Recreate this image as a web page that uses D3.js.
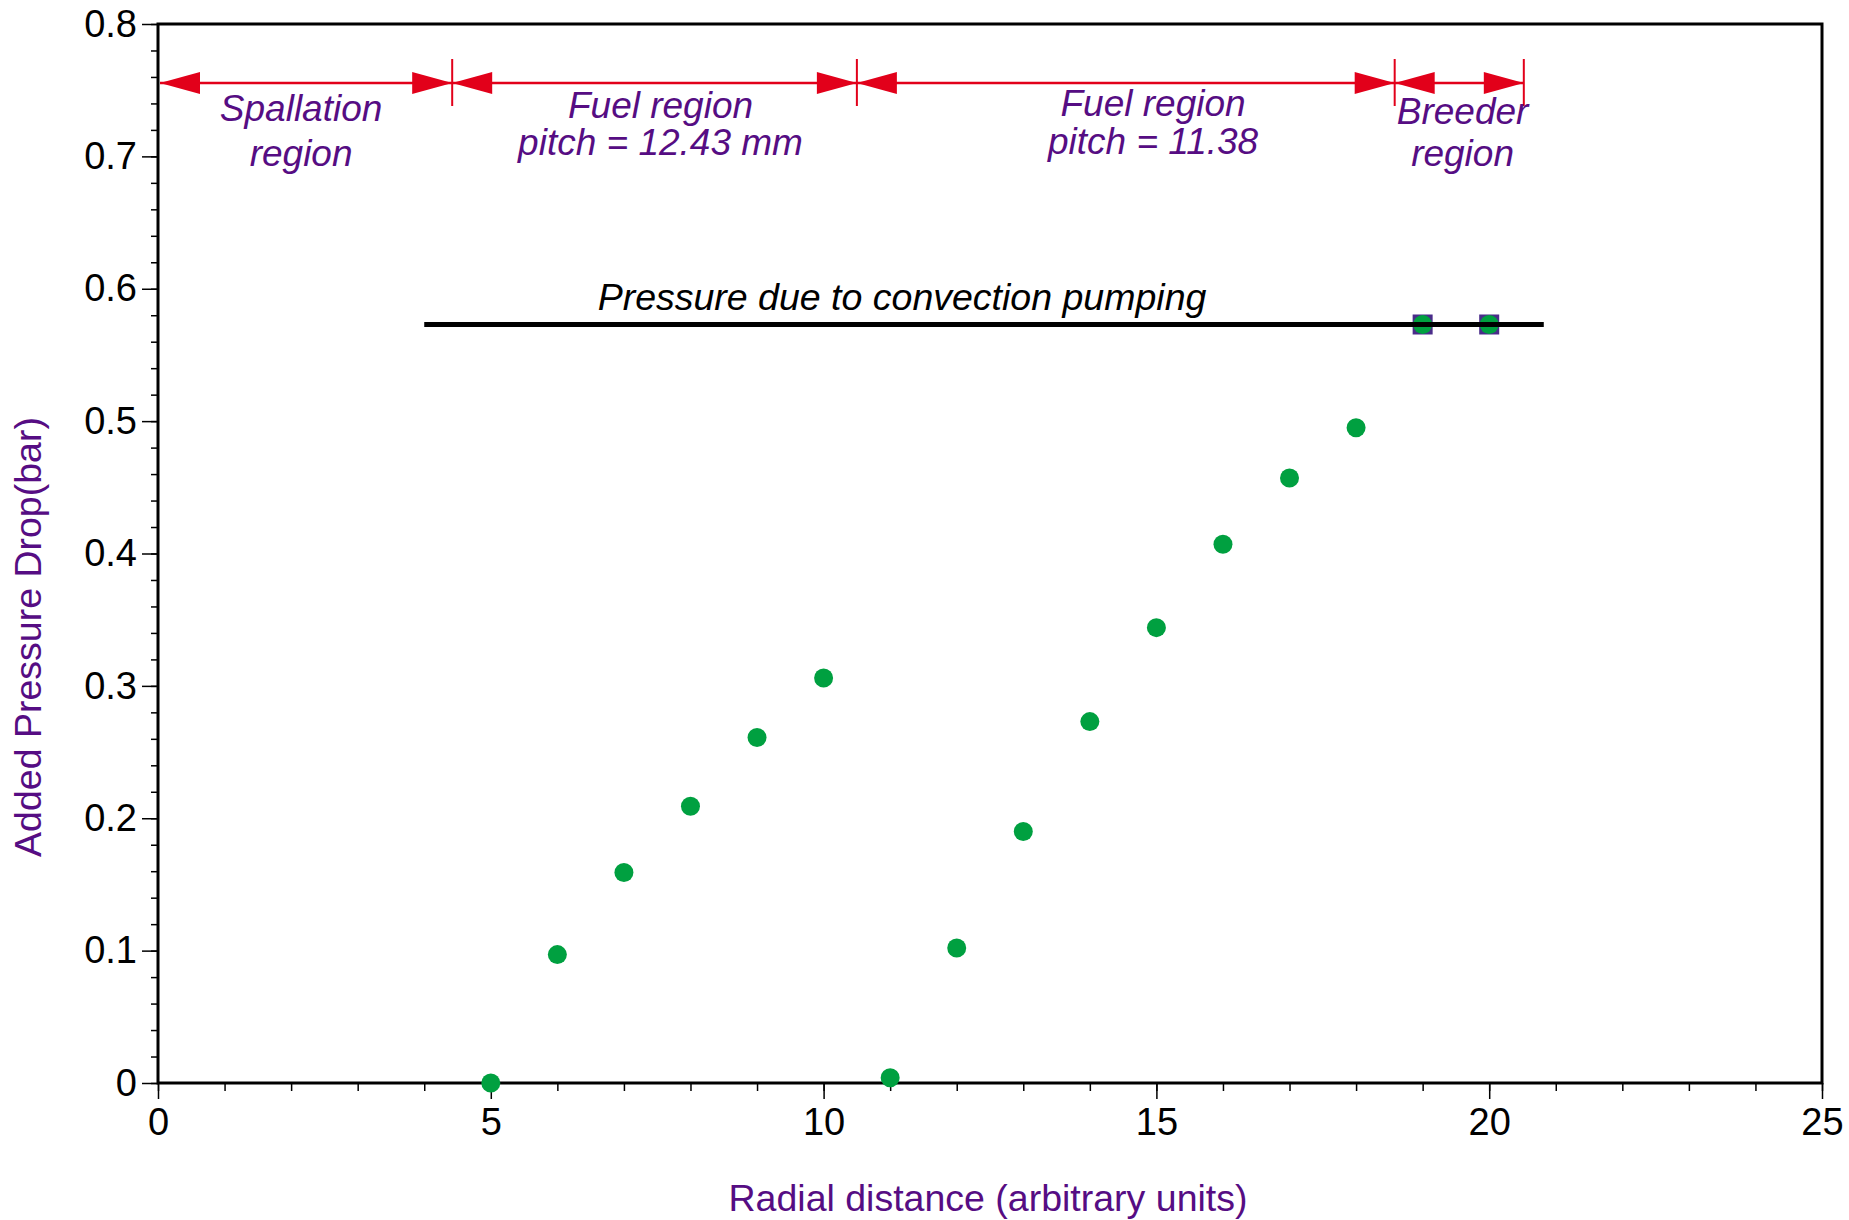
<!DOCTYPE html>
<html><head><meta charset="utf-8">
<script src="https://cdn.jsdelivr.net/npm/d3@7"></script>
<style>body{margin:0;background:#fff}svg{display:block}</style>
</head><body>
<script>
// ---- data ----
const xValues = [5, 6, 7, 8, 9, 10, 11, 12, 13, 14, 15, 16, 17, 18, 19, 20];
const yValues = [0, 0.097, 0.159, 0.209, 0.261, 0.306, 0.004, 0.102, 0.190, 0.273, 0.344, 0.407, 0.457, 0.495, 0.573, 0.573];
const squareX = [19, 20];
const squareY = [0.573, 0.573];
const pumpLine = {x0: 4, x1: 20.82, y: 0.573, label: "Pressure due to convection pumping"};
const regionBounds = [0, 4.42, 10.5, 18.58, 20.52];
const regionLabels = [
  {x: 2.15, lines: ["Spallation", "region"]},
  {x: 7.55, lines: ["Fuel region", "pitch = 12.43 mm"]},
  {x: 14.95, lines: ["Fuel region", "pitch = 11.38"]},
  {x: 19.6, lines: ["Breeder", "region"]}
];
const xTicks = [0, 5, 10, 15, 20, 25];
const yTicks = [0, 0.1, 0.2, 0.3, 0.4, 0.5, 0.6, 0.7, 0.8];
const xTitle = "Radial distance (arbitrary units)";
const yTitle = "Added Pressure Drop(bar)";

// ---- layout ----
const W = 1849, H = 1220;
const L = 158, R = 1822, T = 24, B = 1083;
const purple = "#560d83", red = "#e2001a", green = "#00a040", sqColor = "#4a2c8a";
const font = "'Liberation Sans', Arial, Helvetica, sans-serif";

const svg = d3.select("body").append("svg").attr("width", W).attr("height", H)
  .style("font-family", font);

const x = d3.scaleLinear().domain([0, 25]).range([L, R]);
const y = d3.scaleLinear().domain([0, 0.8]).range([B, T]);

// minor ticks
const gx = svg.append("g").attr("transform", `translate(0,${B})`);
gx.call(d3.axisBottom(x).tickValues(d3.range(0, 26, 1)).tickSize(8).tickFormat(""))
  .call(g => g.select(".domain").remove())
  .call(g => g.selectAll("line").attr("stroke", "#000").attr("stroke-width", 1.5));
const gx2 = svg.append("g").attr("transform", `translate(0,${B})`);
gx2.call(d3.axisBottom(x).tickValues(xTicks).tickSize(16).tickPadding(9).tickFormat(d3.format("d")))
  .call(g => g.select(".domain").remove())
  .call(g => g.selectAll("line").attr("stroke", "#000").attr("stroke-width", 1.5))
  .call(g => g.selectAll("text").attr("fill", "#000").style("font-size", "38px").style("font-family", font));

const gy = svg.append("g").attr("transform", `translate(${L},0)`);
gy.call(d3.axisLeft(y).tickValues(d3.range(0, 41, 1).map(i => i * 0.02)).tickSize(7).tickFormat(""))
  .call(g => g.select(".domain").remove())
  .call(g => g.selectAll("line").attr("stroke", "#000").attr("stroke-width", 1.5));
const gy2 = svg.append("g").attr("transform", `translate(${L},0)`);
gy2.call(d3.axisLeft(y).tickValues(yTicks).tickSize(16).tickPadding(5).tickFormat(d => d === 0 ? "0" : d3.format(".1f")(d)))
  .call(g => g.select(".domain").remove())
  .call(g => g.selectAll("line").attr("stroke", "#000").attr("stroke-width", 1.5))
  .call(g => g.selectAll("text").attr("fill", "#000").style("font-size", "38px").style("font-family", font));

// frame
svg.append("rect").attr("x", x(0)).attr("y", y(0.8))
  .attr("width", x(25) - x(0)).attr("height", y(0) - y(0.8))
  .attr("fill", "none").attr("stroke", "#000").attr("stroke-width", 3);

// axis titles
svg.append("text").attr("x", 988).attr("y", 1211).attr("text-anchor", "middle")
  .attr("fill", purple).style("font-size", "37.5px").text(xTitle);
svg.append("text").attr("transform", `translate(41,${637}) rotate(-90)`)
  .attr("text-anchor", "middle").attr("fill", purple).style("font-size", "37.5px").text(yTitle);

// squares
svg.selectAll("rect.sq").data(squareX.map((d, i) => [d, squareY[i]])).enter().append("rect")
  .attr("class", "sq")
  .attr("x", d => x(d[0]) - 10).attr("y", d => y(d[1]) - 10)
  .attr("width", 20).attr("height", 20).attr("fill", sqColor);

// circles
svg.selectAll("circle.pt").data(xValues.map((d, i) => [d, yValues[i]])).enter().append("circle")
  .attr("class", "pt").attr("cx", d => x(d[0])).attr("cy", d => y(d[1]))
  .attr("r", 9.5).attr("fill", green);

// pump line
svg.append("line").attr("x1", x(pumpLine.x0)).attr("x2", x(pumpLine.x1))
  .attr("y1", y(pumpLine.y)).attr("y2", y(pumpLine.y))
  .attr("stroke", "#000").attr("stroke-width", 5);
svg.append("text").attr("x", 902).attr("y", y(pumpLine.y) - 14).attr("text-anchor", "middle")
  .attr("fill", "#000").style("font-size", "37.5px").style("font-style", "italic").text(pumpLine.label);

// region arrows
const arrowY = 83, headLen = 40, headHalf = 11;
for (let i = 0; i < regionBounds.length - 1; i++) {
  const a = x(regionBounds[i]) + (i === 0 ? 2 : 0), b = x(regionBounds[i + 1]);
  svg.append("line").attr("x1", a).attr("x2", b).attr("y1", arrowY).attr("y2", arrowY)
    .attr("stroke", red).attr("stroke-width", 2.5);
  svg.append("path").attr("d", `M${a},${arrowY} L${a + headLen},${arrowY - headHalf} L${a + headLen},${arrowY + headHalf} Z`).attr("fill", red);
  svg.append("path").attr("d", `M${b},${arrowY} L${b - headLen},${arrowY - headHalf} L${b - headLen},${arrowY + headHalf} Z`).attr("fill", red);
}
regionBounds.slice(1).forEach(v => {
  svg.append("line").attr("x1", x(v)).attr("x2", x(v)).attr("y1", 59).attr("y2", 106)
    .attr("stroke", red).attr("stroke-width", 2);
});

const labelBase = [[121, 166], [118, 155], [116, 154], [124, 166]];
regionLabels.forEach((lab, i) => {
  lab.lines.forEach((t, j) => {
    svg.append("text").attr("x", x(lab.x)).attr("y", labelBase[i][j]).attr("text-anchor", "middle")
      .attr("fill", purple).style("font-size", "37px").style("font-style", "italic").text(t);
  });
});
</script>
</body></html>
